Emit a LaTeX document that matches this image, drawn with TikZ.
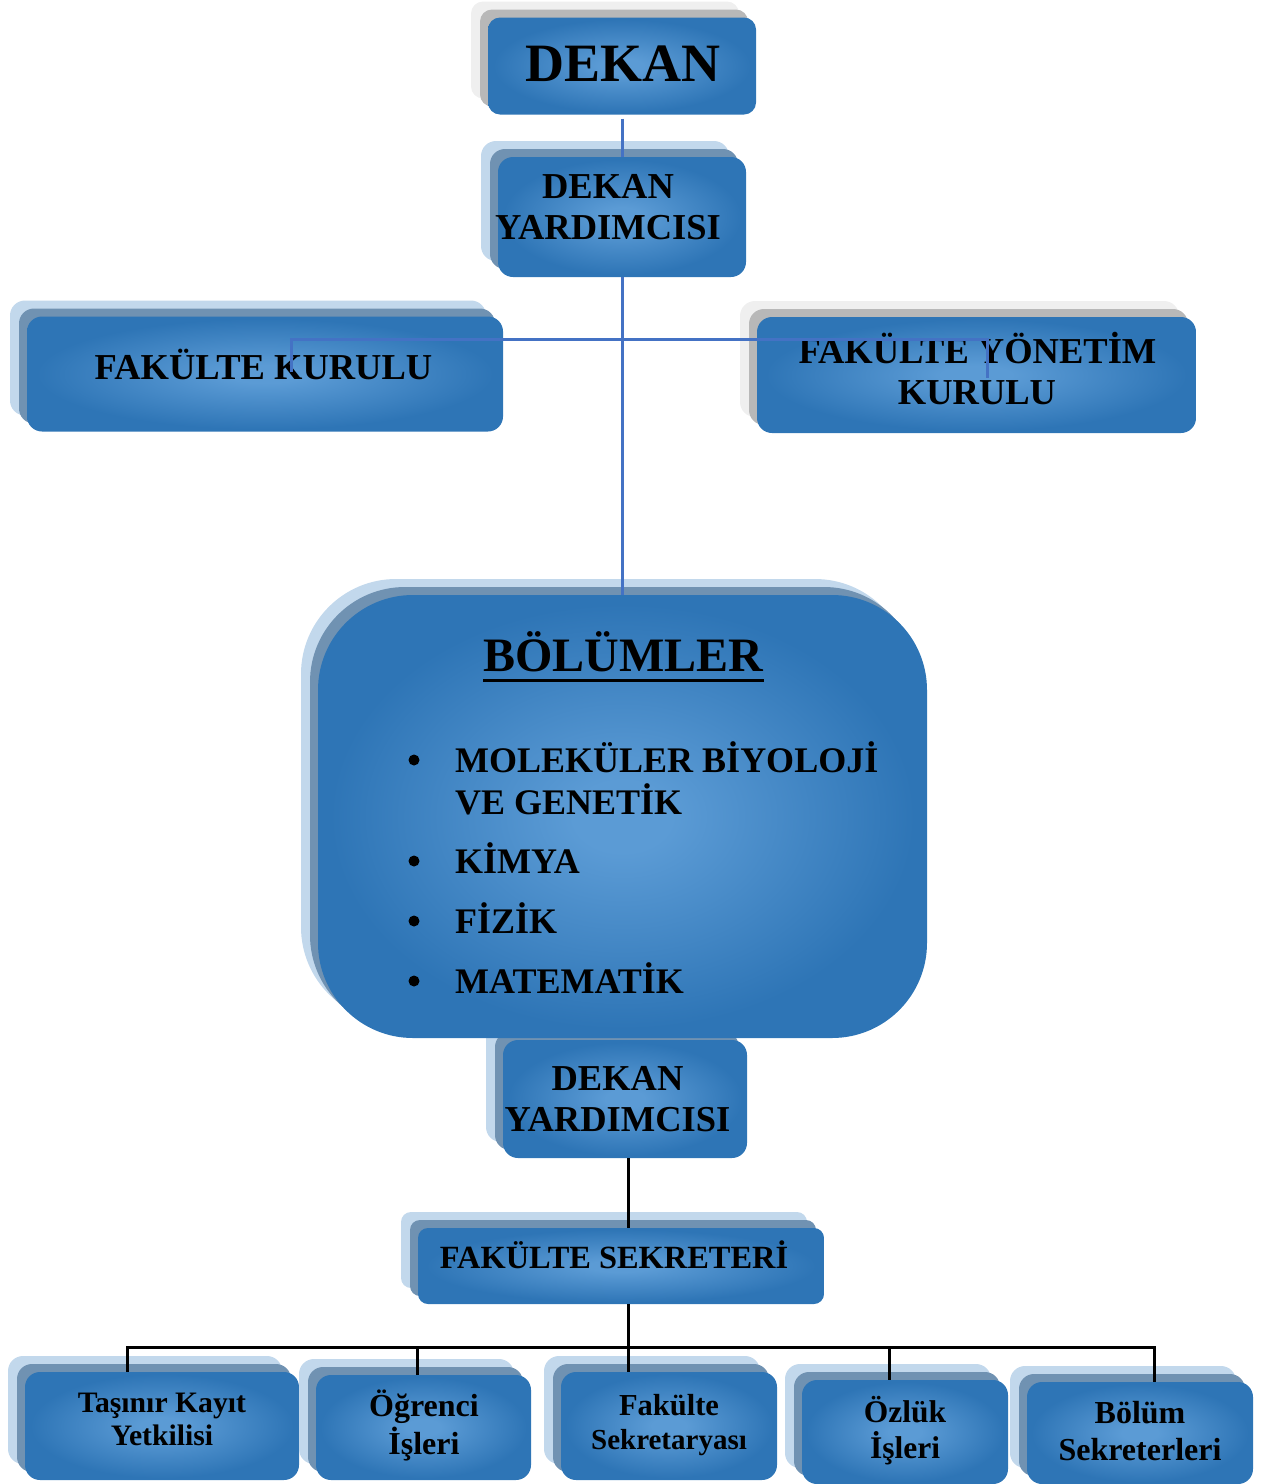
\documentclass[tikz,border=0pt]{standalone}
\usepackage{fontspec}
\setmainfont{Liberation Serif}
\usetikzlibrary{shadows}
\definecolor{bxin}{HTML}{5B9BD5}
\definecolor{bxout}{HTML}{2E75B6}
\definecolor{shdark}{HTML}{7092B2}
\definecolor{shlight}{HTML}{C2D8EC}
\definecolor{grdark}{HTML}{B8B8B8}
\definecolor{grlight}{HTML}{EFEFEF}
\definecolor{linkblue}{HTML}{4472C4}
\pgfdeclareradialshading{boxshade}{\pgfpoint{0bp}{0bp}}{color(0bp)=(bxin); color(4bp)=(bxin); color(24bp)=(bxout); color(50bp)=(bxout)}
\tikzset{
  orgbox/.style={shape=rectangle, shading=boxshade, draw=none, inner sep=0pt},
  blueshadow/.style={general shadow={fill=shlight, shadow xshift=-17pt, shadow yshift=16pt},
                     general shadow={fill=shdark, shadow xshift=-8pt, shadow yshift=8pt}},
  greyshadow/.style={general shadow={fill=grlight, shadow xshift=-17pt, shadow yshift=16pt},
                     general shadow={fill=grdark, shadow xshift=-8pt, shadow yshift=8pt}},
  txt/.style={inner sep=0pt, anchor=base, text=black, font=\fontsize{#1pt}{#1pt}\selectfont\bfseries},
  blueline/.style={draw=linkblue, line width=3pt},
  blackline/.style={draw=black, line width=3pt},
}
\begin{document}
\begin{tikzpicture}[x=1pt,y=-1pt]
\useasboundingbox (0,0) rectangle (1261,1484);

% ---- top part
\node[orgbox, greyshadow, rounded corners=12pt, minimum width=268pt, minimum height=97pt] (dekan) at (622,66) {};
\node[txt=54] (tdekan) at (623,81) {DEKAN};

\node[orgbox, blueshadow, rounded corners=15pt, minimum width=248pt, minimum height=120pt] (dy1) at (622,217) {};
\node[txt=36.5] (tdy1a) at (608,198) {DEKAN};
\node[txt=36.5] (tdy1b) at (608,239) {YARDIMCISI};

\node[orgbox, blueshadow, rounded corners=15pt, minimum width=476pt, minimum height=115pt] (fk) at (265,374) {};
\node[txt=36.5] (tfk) at (263.5,379) {FAKÜLTE KURULU};

\node[orgbox, greyshadow, rounded corners=15pt, minimum width=439pt, minimum height=116pt] (fyk) at (976.5,375) {};
\node[txt=36.5] (tfyka) at (977.5,363) {FAKÜLTE YÖNETİM};
\node[txt=36.5] (tfykb) at (977,404) {KURULU};

% ---- middle
\node[orgbox, blueshadow, rounded corners=15pt, minimum width=244pt, minimum height=118pt] (dy2) at (625,1099) {};
\node[txt=36.5] (tdy2a) at (617.5,1090) {DEKAN};
\node[txt=36.5] (tdy2b) at (617.5,1131) {YARDIMCISI};

\node[orgbox, blueshadow, rounded corners=95pt, minimum width=609pt, minimum height=443pt] (bol) at (622.5,816.5) {};
\node[txt=48] (tbol) at (623.5,671) {BÖLÜMLER};
\draw[line width=3pt] ([yshift=-9pt]tbol.base west) -- ([yshift=-9pt]tbol.base east);
\fill (414,760) circle (5.5pt);
\fill (414,861) circle (5.5pt);
\fill (414,921) circle (5.5pt);
\fill (414,981) circle (5.5pt);
\node[txt=36, anchor=base west] (li1a) at (455,772) {MOLEKÜLER BİYOLOJİ};
\node[txt=36, anchor=base west] (li1b) at (455,814) {VE GENETİK};
\node[txt=36, anchor=base west] (li2) at (455,873) {KİMYA};
\node[txt=36, anchor=base west] (li3) at (455,933) {FİZİK};
\node[txt=36, anchor=base west] (li4) at (455,993) {MATEMATİK};

\node[orgbox, blueshadow, rounded corners=10pt, minimum width=406pt, minimum height=76pt] (fs) at (621,1266) {};
\node[txt=32.4] (tfs) at (614,1268) {FAKÜLTE SEKRETERİ};

% ---- bottom row
\node[orgbox, blueshadow, rounded corners=15pt, minimum width=274pt, minimum height=108pt] (b1) at (162,1426) {};
\node[txt=29.7] (tb1a) at (162,1412) {Taşınır Kayıt};
\node[txt=29.7] (tb1b) at (162,1445) {Yetkilisi};

\node[orgbox, blueshadow, rounded corners=15pt, minimum width=215pt, minimum height=105pt] (b2) at (423.5,1427.5) {};
\node[txt=32] (tb2a) at (424,1416) {Öğrenci};
\node[txt=32] (tb2b) at (424,1454) {İşleri};

\node[orgbox, blueshadow, rounded corners=15pt, minimum width=216pt, minimum height=108pt] (b3) at (669,1426) {};
\node[txt=30.5] (tb3a) at (669,1415) {Fakülte};
\node[txt=29] (tb3b) at (669,1449) {Sekretaryası};

\node[orgbox, blueshadow, rounded corners=15pt, minimum width=206pt, minimum height=104pt] (b4) at (905,1432) {};
\node[txt=31.5] (tb4a) at (905,1422) {Özlük};
\node[txt=31.5] (tb4b) at (905,1458) {İşleri};

\node[orgbox, blueshadow, rounded corners=15pt, minimum width=226pt, minimum height=102pt] (b5) at (1140,1433) {};
\node[txt=32] (tb5a) at (1140,1423) {Bölüm};
\node[txt=32] (tb5b) at (1140,1460) {Sekreterleri};

% ---- blue connectors
\draw[blueline] ([yshift=-4pt]dekan.south) -- (dy1.north);
\draw[blueline] (dy1.south) -- (dy1.south |- bol.north);
\coordinate (jn) at (622,339);
\coordinate (fkend) at (291,372);
\coordinate (fykend) at (987,378);
\draw[blueline] (fkend) |- (jn) -| (fykend);

% ---- black connectors
\coordinate (spine) at (628,1347);
\draw[blackline] (spine |- dy2.south) -- (spine |- fs.north);
\draw[blackline] (spine |- fs.south) -- (spine);
\coordinate (x1) at (127,1347);
\coordinate (x2) at (417,1347);
\coordinate (x4) at (889,1347);
\coordinate (x5) at (1154,1347);
\draw[blackline] (x1 |- b1.north) -- (x1) -- (x5) -- (x5 |- b5.north);
\draw[blackline] (x2) -- (x2 |- b2.north);
\draw[blackline] (spine) -- (spine |- b3.north);
\draw[blackline] (x4) -- (x4 |- b4.north);
\end{tikzpicture}
\end{document}
